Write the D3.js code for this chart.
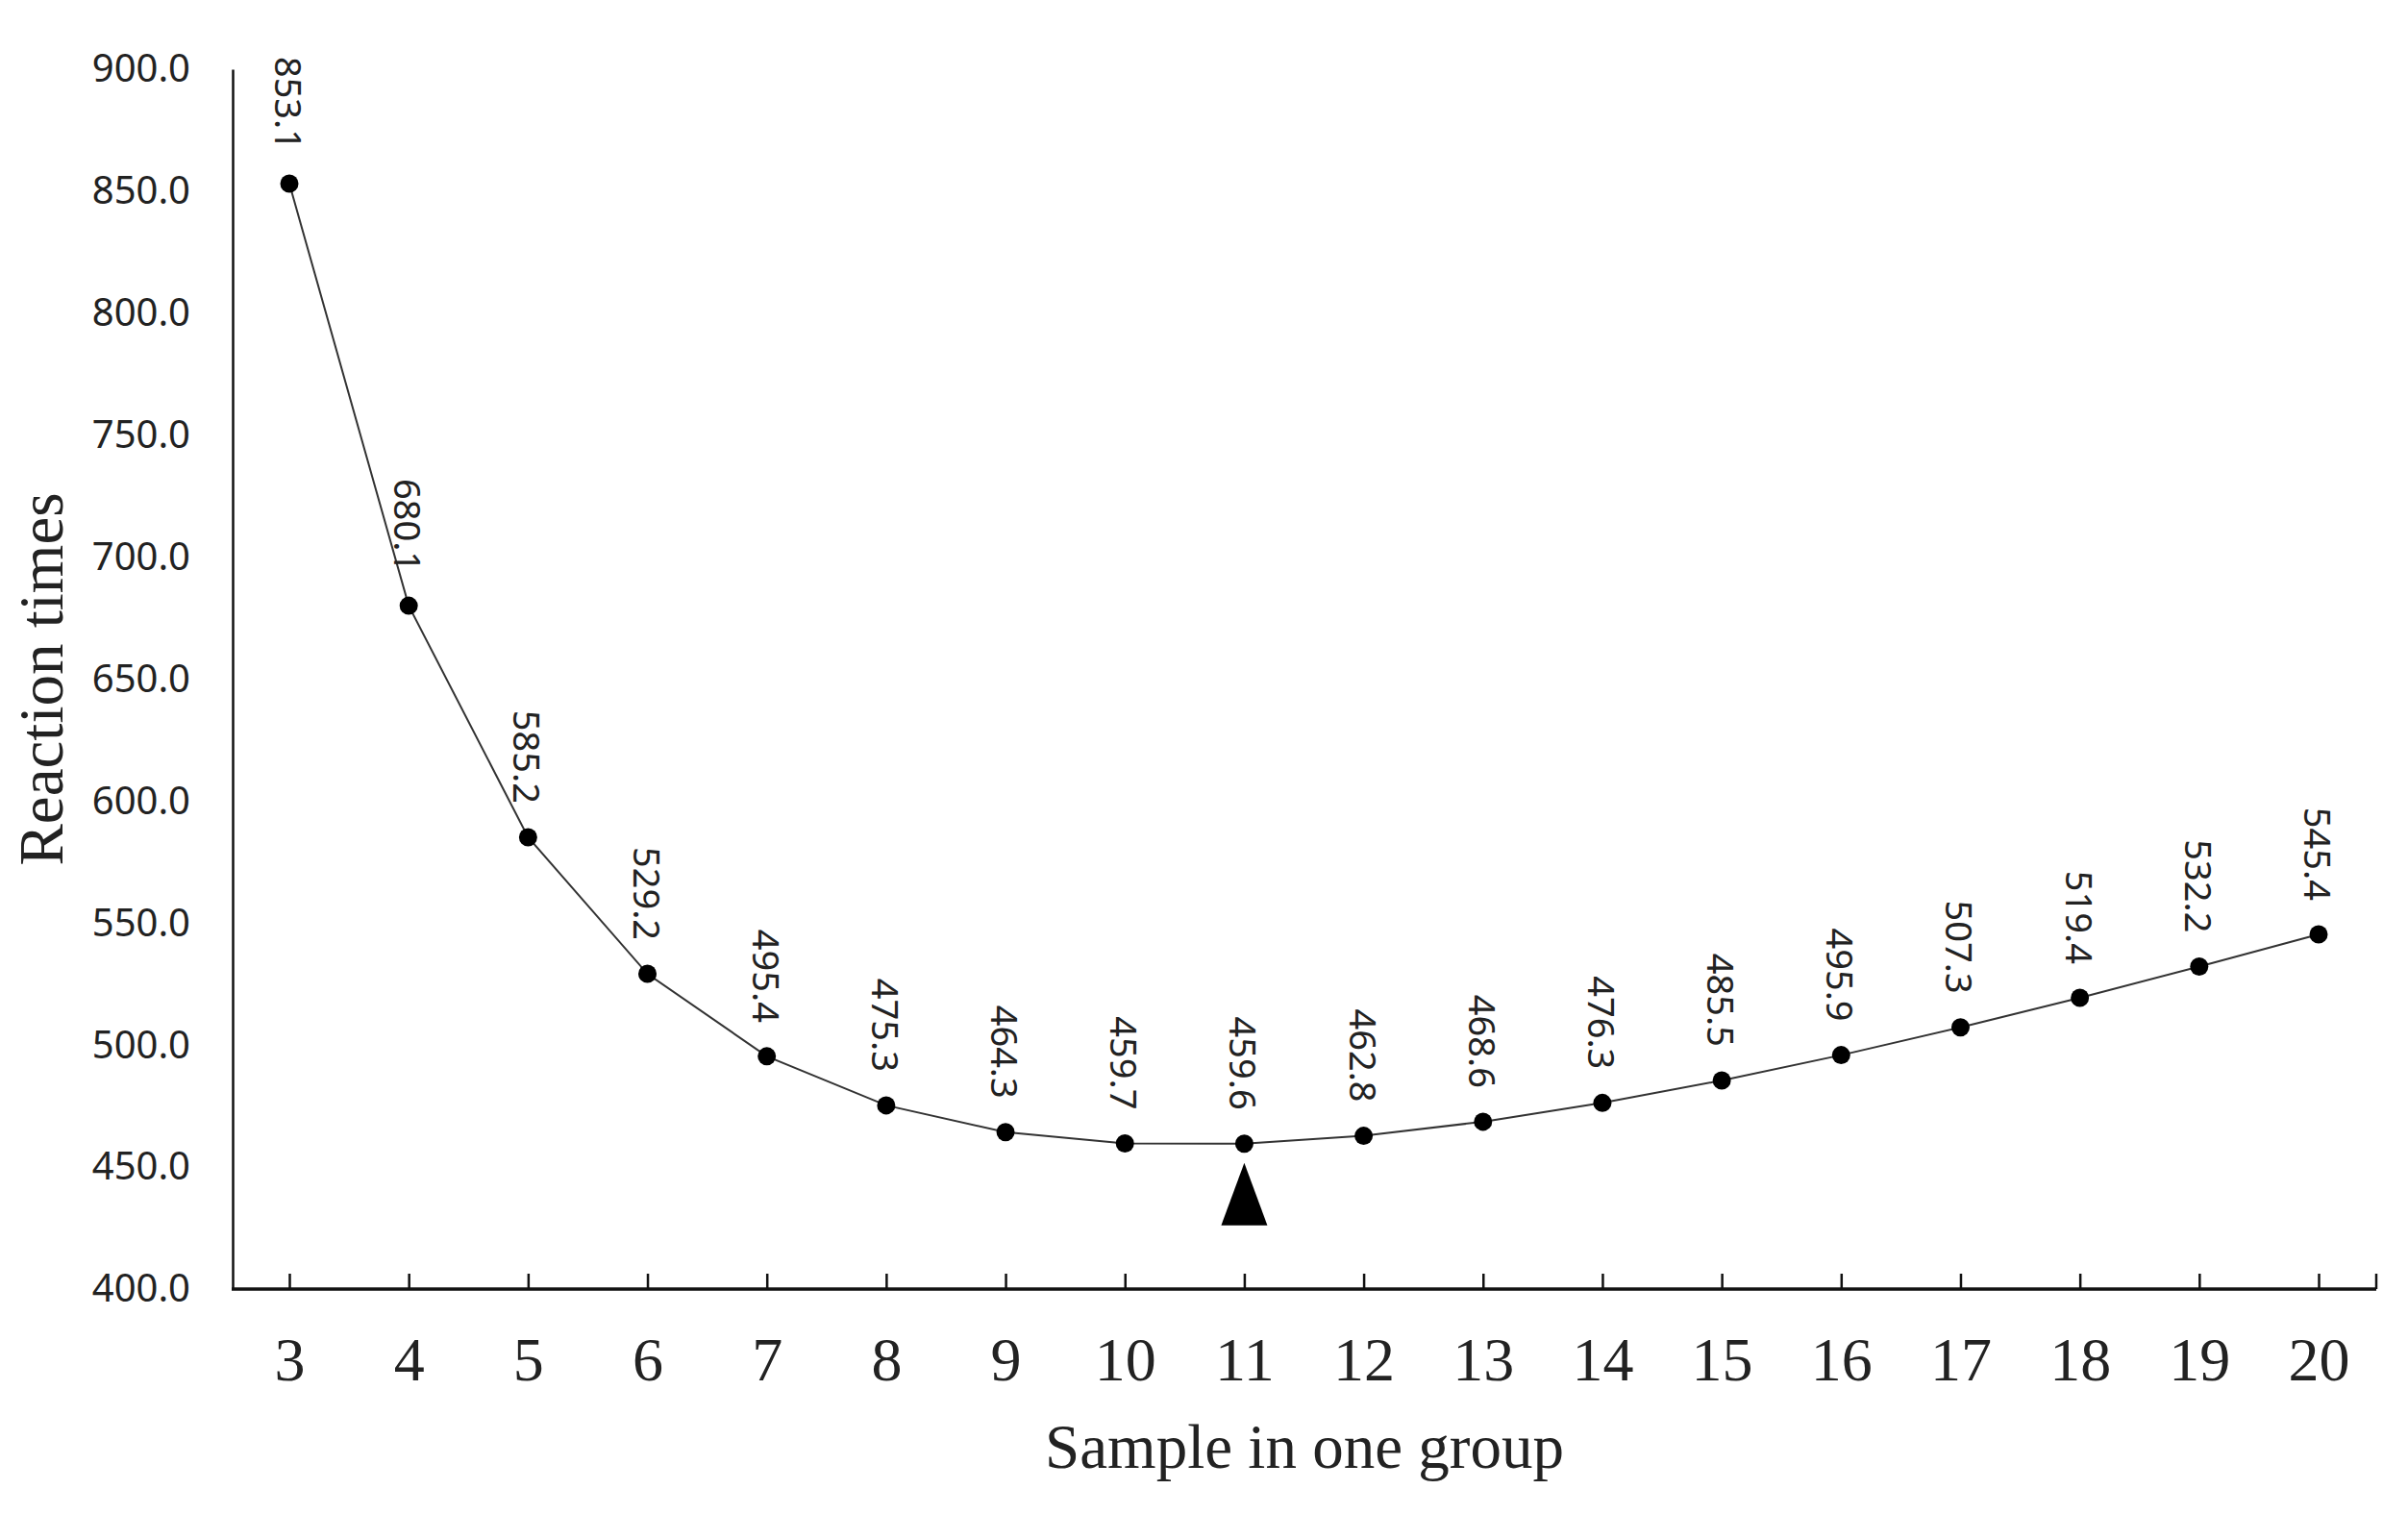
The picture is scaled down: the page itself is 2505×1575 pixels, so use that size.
<!DOCTYPE html>
<html>
<head>
<meta charset="utf-8">
<script src="https://cdn.jsdelivr.net/npm/d3@7"></script>
<style>
  body { margin: 0; background: white; }
</style>
</head>
<body>
<div class="reactionChart"></div>
<script>
// Chart data
const sampleSizes = [3, 4, 5, 6, 7, 8, 9, 10, 11, 12, 13, 14, 15, 16, 17, 18, 19, 20];
const reactionTimes = [853.1, 680.1, 585.2, 529.2, 495.4, 475.3, 464.3, 459.7, 459.6, 462.8, 468.6, 476.3, 485.5, 495.9, 507.3, 519.4, 532.2, 545.4];
const yTicks = [400, 450, 500, 550, 600, 650, 700, 750, 800, 850, 900];
const markedSample = 11;

const chartWidth = 2505
const chartHeight = 1575
const plotLeft = 242
const plotRight = 2472
const plotTop = 72
const plotBottom = 1341

const sansFont = "'Noto Sans', 'Open Sans', sans-serif";
const serifFont = "'Liberation Serif', 'DejaVu Serif', serif";

const svg = d3.select(".reactionChart")
  .append("svg")
  .attr("width", chartWidth)
  .attr("height", chartHeight)
  .style("background", "white");

// Scales
const x = d3.scalePoint()
  .domain(sampleSizes)
  .range([301, 2412]);

const y = d3.scaleLinear()
  .domain([400, 900])
  .range([plotBottom, plotTop]);

// Y axis: line only, labels to the left
const yAxis = svg.append("g")
  .attr("transform", `translate(${plotLeft},0)`)
  .call(d3.axisLeft(y).tickValues(yTicks).tickFormat(d3.format(".1f")).tickSize(0).tickPadding(44));

yAxis.select(".domain")
  .attr("stroke", "#111")
  .attr("stroke-width", 2.5);

yAxis.selectAll("text")
  .style("font-family", sansFont)
  .style("font-size", "40px")
  .attr("fill", "#222");

// X axis: inward ticks at each sample size
const xAxis = svg.append("g")
  .attr("transform", `translate(0,${plotBottom})`)
  .call(d3.axisBottom(x).tickSize(-16).tickSizeOuter(0).tickPadding(95));

xAxis.select(".domain").remove();

xAxis.selectAll(".tick line")
  .attr("stroke", "#111")
  .attr("stroke-width", 2.5);

xAxis.selectAll("text")
  .style("font-family", serifFont)
  .style("font-size", "64px")
  .attr("fill", "#222")
  .attr("dy", 0);

xAxis.append("line")
  .attr("x1", plotLeft - 1)
  .attr("x2", plotRight)
  .attr("y1", 0)
  .attr("y2", 0)
  .attr("stroke", "#111")
  .attr("stroke-width", 3.5);

xAxis.append("line")
  .attr("x1", plotRight)
  .attr("x2", plotRight)
  .attr("y1", 0)
  .attr("y2", -16)
  .attr("stroke", "#111")
  .attr("stroke-width", 2.5);

// Axis titles
svg.append("text")
  .attr("transform", `translate(65, ${(plotTop + plotBottom) / 2}) rotate(-90)`)
  .attr("text-anchor", "middle")
  .text("Reaction times")
  .style("font-family", serifFont)
  .style("font-size", "65px")
  .attr("fill", "#222");

svg.append("text")
  .attr("x", (plotLeft + plotRight) / 2)
  .attr("y", 1527)
  .attr("text-anchor", "middle")
  .text("Sample in one group")
  .style("font-family", serifFont)
  .style("font-size", "65px")
  .attr("fill", "#222");

// Line and points
const points = sampleSizes.map((s, i) => ({ size: s, value: reactionTimes[i] }));

const line = d3.line()
  .x(d => x(d.size))
  .y(d => y(d.value));

svg.append("path")
  .datum(points)
  .attr("d", line)
  .attr("fill", "none")
  .attr("stroke", "#333")
  .attr("stroke-width", 2);

svg.selectAll("circle.point")
  .data(points)
  .join("circle")
  .attr("class", "point")
  .attr("cx", d => x(d.size))
  .attr("cy", d => y(d.value))
  .attr("r", 9.5)
  .attr("fill", "black");

// Rotated value labels above each point
svg.selectAll("text.value")
  .data(points)
  .join("text")
  .attr("class", "value")
  .attr("transform", d => `translate(${x(d.size)}, ${y(d.value) - 35}) rotate(90)`)
  .attr("text-anchor", "end")
  .attr("dominant-baseline", "central")
  .text(d => d.value.toFixed(1))
  .style("font-family", sansFont)
  .style("font-size", "38px")
  .attr("fill", "#222");

// Triangle marker under the lowest point
const marked = points.find(d => d.size === markedSample);
const mx = x(marked.size);
const my = y(marked.value);
svg.append("path")
  .attr("d", `M${mx},${my + 20} L${mx + 24},${my + 85} L${mx - 24},${my + 85} Z`)
  .attr("fill", "black");
</script>
</body>
</html>
